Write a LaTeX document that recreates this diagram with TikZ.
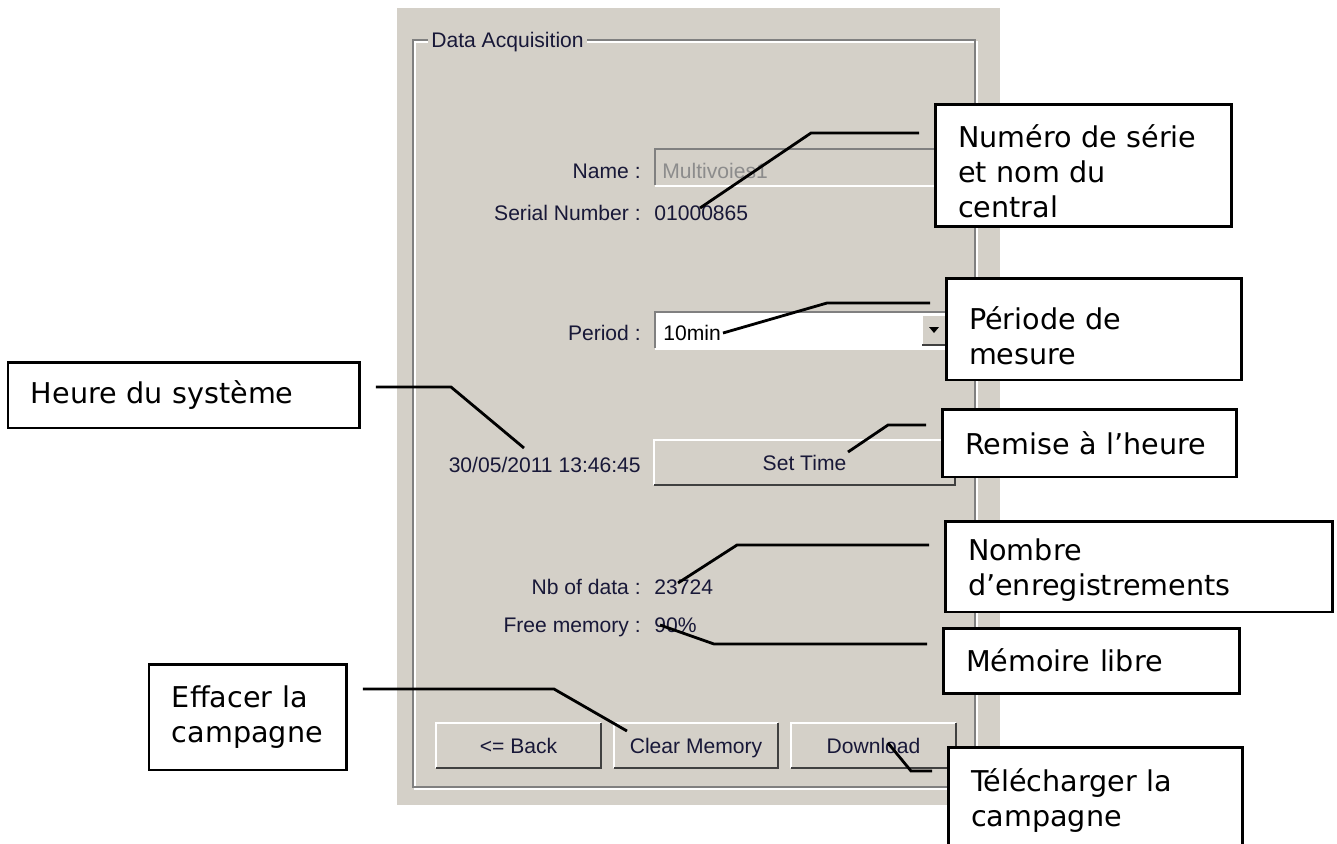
\documentclass[tikz,border=0pt]{standalone}
\usepackage{fontspec}
\setmainfont{DejaVu Sans}
\newfontfamily\uifont{Liberation Sans}

\definecolor{panelgray}{RGB}{212,208,200}
\definecolor{edgegray}{RGB}{128,128,128}
\definecolor{edgedark}{RGB}{64,64,64}
\definecolor{uitext}{RGB}{24,24,56}
\definecolor{greyedtext}{RGB}{140,140,140}

\tikzset{
  uilabel/.style={font=\uifont\fontsize{12}{14}\selectfont, text=uitext,
    inner sep=0pt, text height=10pt, text depth=1.4pt},
  callout/.style={draw, line width=1.7pt, fill=white, anchor=north west,
    align=left, outer sep=0pt, inner xsep=0.46cm, inner ysep=0pt,
    font=\fontsize{16.3}{19.85}\selectfont},
  leader/.style={line width=1.6pt, shorten <=0.32cm},
}

\begin{document}
\begin{tikzpicture}[x=0.02cm, y=-0.02cm]
  \useasboundingbox (0,0) rectangle (1337,843);
  \clip (0,0) rectangle (1337,843);

  % Window
  \fill[panelgray] (397,8) rectangle (1000,805);

  % Group box
  \draw[white, line width=1.1pt] (415,42) rectangle (977,789);
  \draw[edgegray, line width=1.1pt] (413,40) rectangle (975,787);
  \node[uilabel, anchor=west, fill=panelgray, inner xsep=0.06cm] (grouptitle) at (428,40) {Data Acquisition};

  % Name field (disabled)
  \fill[panelgray] (655,149) rectangle (960,185);
  \draw[edgegray, line width=1.3pt] (655,185) -- (655,149) -- (960,149);
  \draw[white, line width=1.1pt] (655,186) -- (960,186);

  % Period combo box
  \fill[white] (655,312) rectangle (960,348);
  \draw[edgegray, line width=1.3pt] (655,348) -- (655,312) -- (960,312);
  \draw[white, line width=1.1pt] (655,349) -- (960,349);
  \fill[panelgray] (922,315) rectangle (946,345);
  \draw[white, line width=0.8pt] (922,345) -- (922,315) -- (946,315);
  \draw[edgedark, line width=0.8pt] (922,345) -- (946,345);
  \fill[black] (929,327) -- (939,327) -- (934,333) -- cycle;

  % Labels and values
  \node[uilabel, anchor=east] (namelbl) at (641,171) {Name :};
  \node[uilabel, anchor=west, text=greyedtext] (nameval) at (662,171) {Multivoies1};
  \node[uilabel, anchor=east] (seriallbl) at (641,213) {Serial Number :};
  \node[uilabel, anchor=west] (serialval) at (654,213) {01000865};
  \node[uilabel, anchor=east] (periodlbl) at (641,333) {Period :};
  \node[uilabel, anchor=west, text=black] (periodval) at (663,333) {10min};
  \node[uilabel, anchor=east] (clock) at (641,465) {30/05/2011 13:46:45};
  \node[uilabel, anchor=east] (nblbl) at (641,587) {Nb of data :};
  \node[uilabel, anchor=west] (nbval) at (654,587) {23724};
  \node[uilabel, anchor=east] (freelbl) at (641,625) {Free memory :};
  \node[uilabel, anchor=west] (freeval) at (654,625) {90\%};

  % Buttons
  \foreach \xa/\ya/\xb/\yb/\nm/\lbl in {654/440/955/485/settime/Set Time,
      436/723/601/768/back/{<= Back}, 614/723/778/768/clearmem/Clear Memory,
      791/723/956/768/download/Download} {
    \fill[panelgray] (\xa,\ya) rectangle (\xb,\yb);
    \draw[white, line width=1.1pt] (\xa,\yb) -- (\xa,\ya) -- (\xb,\ya);
    \draw[edgedark, line width=1.5pt] (\xa,\yb) -- (\xb,\yb) -- (\xb,\ya);
    \node[uilabel] (\nm) at ({(\xa+\xb)/2},{(\ya+\yb)/2}) {\lbl};
  }

  % Callouts
  \node[callout, text width=5.02cm, minimum height=2.46cm] (serie) at (935,104) {\rule{0pt}{19.8pt}Numéro de série\\et nom du\\central};
  \node[callout, text width=5.0cm, minimum height=2.04cm] (periode) at (946,278) {\rule{0pt}{20.9pt}Période de\\mesure};
  \node[callout, text width=6.12cm, minimum height=1.32cm] (heure) at (8,362) {Heure du système};
  \node[callout, text width=4.98cm, minimum height=1.36cm] (remise) at (942,409) {Remise à l’heure};
  \node[callout, text width=6.84cm, minimum height=1.82cm] (nombre) at (945,521) {\rule{0pt}{16.9pt}Nombre\\d’enregistrements};
  \node[callout, text width=5.02cm, minimum height=1.30cm] (memoire) at (943,628) {Mémoire libre};
  \node[callout, text width=3.04cm, minimum height=2.12cm] (effacer) at (149,664) {Effacer la\\campagne};
  \node[callout, text width=4.98cm, minimum height=2.06cm] (telecharger) at (948,747) {\rule{0pt}{15.3pt}Télécharger la\\campagne};

  % Leader lines
  \coordinate (seriebend) at (811,133);  \coordinate (serietip) at (700,208);
  \coordinate (periodebend) at (827,303); \coordinate (periodetip) at (723,333);
  \coordinate (heurebend) at (451,387);  \coordinate (heuretip) at (524,448);
  \coordinate (remisebend) at (888,425); \coordinate (remisetip) at (848,452);
  \coordinate (nombrebend) at (737,545); \coordinate (nombretip) at (678,583);
  \coordinate (memoirebend) at (714,644); \coordinate (memoiretip) at (660,625);
  \coordinate (effacerbend) at (554,689); \coordinate (effacertip) at (627,731);
  \coordinate (telechargerbend) at (911,771); \coordinate (telechargertip) at (888,743);

  \draw[leader] (serie.west |- seriebend) -- (seriebend) -- (serietip);
  \draw[leader] (periode.west |- periodebend) -- (periodebend) -- (periodetip);
  \draw[leader] (heure.east |- heurebend) -- (heurebend) -- (heuretip);
  \draw[leader] (remise.west |- remisebend) -- (remisebend) -- (remisetip);
  \draw[leader] (nombre.west |- nombrebend) -- (nombrebend) -- (nombretip);
  \draw[leader] (memoire.west |- memoirebend) -- (memoirebend) -- (memoiretip);
  \draw[leader] (effacer.east |- effacerbend) -- (effacerbend) -- (effacertip);
  \draw[leader] (telecharger.west |- telechargerbend) -- (telechargerbend) -- (telechargertip);
\end{tikzpicture}
\end{document}
